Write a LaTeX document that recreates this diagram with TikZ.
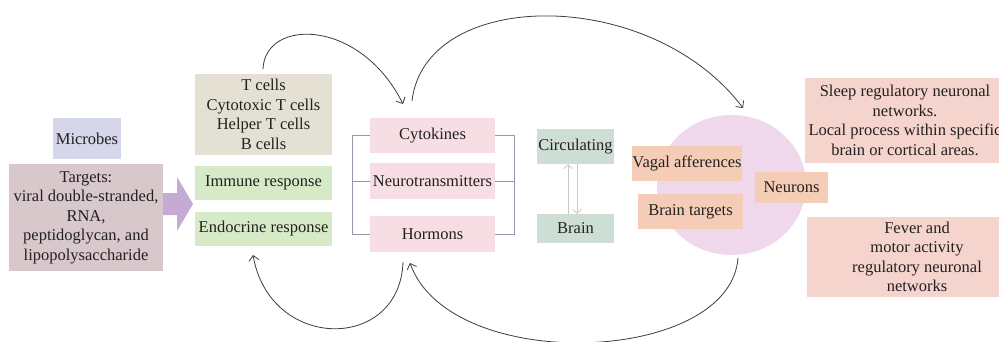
\documentclass[tikz,border=0pt]{standalone}
\usepackage{fontspec}
\setmainfont{Liberation Serif}
\usetikzlibrary{arrows.meta}
\definecolor{txt}{RGB}{35,32,32}
\definecolor{cmicro}{RGB}{214,214,234}
\definecolor{ctarget}{RGB}{216,200,204}
\definecolor{cpurple}{RGB}{198,170,214}
\definecolor{ccells}{RGB}{228,225,212}
\definecolor{cgreen}{RGB}{214,234,200}
\definecolor{cpink}{RGB}{247,222,228}
\definecolor{cgrey}{RGB}{205,222,212}
\definecolor{ccircle}{RGB}{240,216,236}
\definecolor{corange}{RGB}{245,205,182}
\definecolor{csalmon}{RGB}{246,212,206}
\definecolor{cbracket}{RGB}{150,150,172}
\definecolor{carrow}{RGB}{60,60,60}
\definecolor{clight}{RGB}{200,200,200}
\tikzset{
  box/.style={inner sep=0pt, align=center, text=txt, font=\fontsize{16.5}{19.5}\selectfont},
  curvearrow/.style={draw=carrow, line width=0.8pt, -{Straight Barb[length=5pt,width=10pt]}},
  bracket/.style={draw=cbracket, line width=0.8pt},
  lightarrow/.style={draw=clight, line width=0.8pt, -{Straight Barb[length=4pt,width=9pt]}}
}
\begin{document}
\begin{tikzpicture}[x=1pt,y=-1pt]
\useasboundingbox (0,0) rectangle (999,342);
\clip (0,0) rectangle (999,342);
% left
\node[box, fill=cmicro, minimum width=68, minimum height=41] (microbes) at (87,138.5) {Microbes};
\node[box, fill=ctarget, minimum width=154, minimum height=107] (targets) at (86,217.5) {Targets:\\viral double-stranded,\\RNA,\\peptidoglycan, and\\lipopolysaccharide};
\fill[cpurple] (163,193) -- (177,193) -- (177,177) -- (193,204) -- (177,231) -- (177,215) -- (163,215) -- cycle;
% cells
\node[box, fill=ccells, minimum width=137, minimum height=81] (tcells) at (263.5,114.5) {T cells\\Cytotoxic T cells\\Helper T cells\\B cells};
\node[box, fill=cgreen, minimum width=137, minimum height=34] (immune) at (263.5,183) {Immune response};
\node[box, fill=cgreen, minimum width=137, minimum height=34] (endocrine) at (263.5,229) {Endocrine response};
% mediators
\node[box, fill=cpink, minimum width=125, minimum height=35] (cyto) at (432.5,135.5) {Cytokines};
\node[box, fill=cpink, minimum width=125, minimum height=36] (neuro) at (432.5,181) {Neurotransmitters};
\node[box, fill=cpink, minimum width=125, minimum height=36] (horm) at (432.5,234) {Hormons};
\coordinate (bl1) at (352,135.5); \coordinate (bl2) at (352,181); \coordinate (bl3) at (352,234);
\coordinate (br1) at (514,135.5); \coordinate (br2) at (514,181); \coordinate (br3) at (514,234);
\draw[bracket] (cyto.west) -- (bl1) -- (bl3) -- (horm.west);
\draw[bracket] (neuro.west) -- (bl2);
\draw[bracket] (cyto.east) -- (br1) -- (br3) -- (horm.east);
\draw[bracket] (neuro.east) -- (br2);
% circulating / brain
\node[box, fill=cgrey, minimum width=77, minimum height=35] (circ) at (575.5,146.5) {Circulating};
\node[box, fill=cgrey, minimum width=77, minimum height=29] (brain) at (575.5,228.5) {Brain};
\draw[lightarrow] (brain.north -| 568,0) -- (circ.south -| 568,0);
\draw[lightarrow] (circ.south -| 577,0) -- (brain.north -| 577,0);
% circle
\fill[ccircle] (731.5,185) ellipse [x radius=74.5, y radius=70];
\node[box, fill=corange, minimum width=110, minimum height=35] (vagal) at (687,163.5) {Vagal afferences};
\node[box, fill=corange, minimum width=105, minimum height=35] (btargets) at (690.5,211.5) {Brain targets};
\node[box, fill=corange, minimum width=73, minimum height=31] (neurons) at (791.5,187.5) {Neurons};
% right
\node[box, fill=csalmon, minimum width=200, minimum height=85] (sleep) at (905,120.5) {Sleep regulatory neuronal\\networks.\\Local process within specific\\brain or cortical areas.};
\node[box, fill=csalmon, minimum width=220, minimum height=80] (fever) at (917,257) {Fever and\\motor activity\\regulatory neuronal\\networks};
% curved arrows
\coordinate (a1s) at (263,69); \coordinate (a1e) at (403,104);
\draw[curvearrow] (a1s) .. controls (265,18) and (360,18) .. (a1e);
\coordinate (a2s) at (412,101); \coordinate (a2e) at (743,108);
\draw[curvearrow] (a2s) .. controls (425,-12) and (650,-15) .. (a2e);
\coordinate (a3s) at (403,262); \coordinate (a3e) at (253,255);
\draw[curvearrow] (a3s) .. controls (400,352) and (270,352) .. (a3e);
\coordinate (a4s) at (738,258); \coordinate (a4e) at (410,263);
\draw[curvearrow] (a4s) .. controls (730,365) and (450,375) .. (a4e);
\end{tikzpicture}
\end{document}
